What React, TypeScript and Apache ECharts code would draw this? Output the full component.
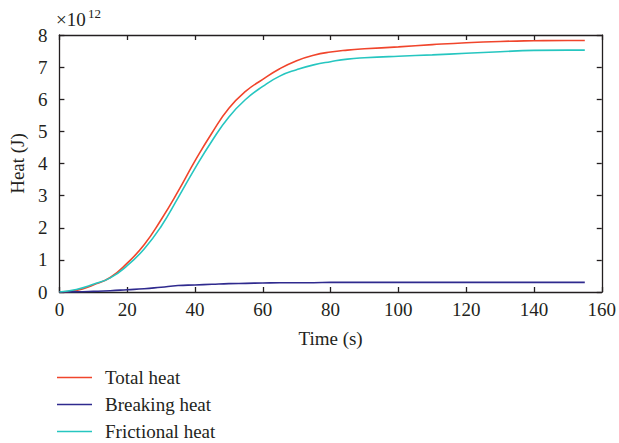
import React, { useEffect, useRef } from "react";
import * as echarts from "echarts";

const time = [0, 5, 10, 15, 20, 25, 30, 35, 40, 45, 50, 55, 60, 65, 70, 75, 80, 85, 90, 100, 110, 120, 130, 140, 150, 155];
const totalHeat = [0, 0.05, 0.22, 0.45, 0.9, 1.47, 2.25, 3.13, 4.08, 4.95, 5.72, 6.25, 6.62, 6.95, 7.2, 7.37, 7.47, 7.53, 7.57, 7.63, 7.7, 7.76, 7.8, 7.82, 7.83, 7.83];
const breakingHeat = [0, 0.005, 0.02, 0.04, 0.07, 0.1, 0.15, 0.2, 0.22, 0.24, 0.26, 0.27, 0.28, 0.29, 0.29, 0.29, 0.3, 0.3, 0.3, 0.3, 0.3, 0.3, 0.3, 0.3, 0.3, 0.3];
const frictionalHeat = [0, 0.08, 0.24, 0.44, 0.82, 1.34, 2.04, 2.93, 3.85, 4.7, 5.45, 6.0, 6.4, 6.72, 6.92, 7.07, 7.17, 7.25, 7.29, 7.34, 7.38, 7.43, 7.48, 7.52, 7.53, 7.53];
const seriesNames = ["Total heat", "Breaking heat", "Frictional heat"];
const colors = ["#f0452c", "#2f2a8e", "#26c6c0"];

const FONT = "Liberation Serif";
const TXT = "#231f20";
const FS = 19;

export default function App() {
  const ref = useRef<HTMLDivElement>(null);
  useEffect(() => {
    const chart = echarts.init(ref.current!, null, { renderer: "svg" });
    const values = [totalHeat, breakingHeat, frictionalHeat];
    const axisLine = { show: true, onZero: false, lineStyle: { color: "#231f20", width: 1.3 } };
    const axisTick = { show: true, inside: true, length: 5, lineStyle: { color: "#231f20", width: 1.3 } };
    chart.setOption({
      animation: false,
      backgroundColor: "#ffffff",
      textStyle: { fontFamily: FONT },
      grid: { left: 57, right: 16, top: 35, bottom: 151 },
      legend: {
        orient: "vertical",
        left: 57,
        top: 368,
        height: 76,
        padding: 0,
        itemWidth: 35,
        itemHeight: 1.6,
        itemGap: 8,
        icon: "rect",
        data: seriesNames,
        textStyle: { fontFamily: FONT, fontSize: FS, color: TXT, padding: [0, 0, 0, 8] },
      },
      xAxis: [
        {
          type: "value",
          min: 0,
          max: 160,
          interval: 20,
          name: "Time (s)",
          nameLocation: "middle",
          nameGap: 37,
          nameTextStyle: { fontFamily: FONT, fontSize: FS, color: TXT },
          axisLine,
          axisTick,
          splitLine: { show: false },
          axisLabel: { fontFamily: FONT, fontSize: FS, color: TXT, margin: 8 },
        },
        {
          type: "value",
          position: "top",
          min: 0,
          max: 160,
          interval: 20,
          axisLine,
          axisTick,
          splitLine: { show: false },
          axisLabel: { show: false },
        },
      ],
      yAxis: [
        {
          type: "value",
          min: 0,
          max: 8,
          interval: 1,
          name: "Heat (J)",
          nameLocation: "middle",
          nameGap: 30,
          nameTextStyle: { fontFamily: FONT, fontSize: FS, color: TXT },
          axisLine,
          axisTick,
          splitLine: { show: false },
          axisLabel: { fontFamily: FONT, fontSize: FS, color: TXT, margin: 12 },
        },
        {
          type: "value",
          position: "right",
          min: 0,
          max: 8,
          interval: 1,
          axisLine,
          axisTick,
          splitLine: { show: false },
          axisLabel: { show: false },
        },
      ],
      graphic: [
        { type: "text", left: 56, top: 10, style: { text: "×10", fontFamily: FONT, fontSize: FS, fill: TXT } },
        { type: "text", left: 88, top: 7, style: { text: "12", fontFamily: FONT, fontSize: 13, fill: TXT } },
      ],
      series: seriesNames.map((name, i) => ({
        name,
        type: "line",
        smooth: true,
        showSymbol: false,
        symbol: "none",
        xAxisIndex: 0,
        yAxisIndex: 0,
        data: time.map((t, k) => [t, values[i][k]]),
        lineStyle: { color: colors[i], width: 1.6 },
        itemStyle: { color: colors[i] },
      })),
    });
    return () => chart.dispose();
  }, []);
  return <div ref={ref} style={{ position: "absolute", left: 0, top: 0, width: 619, height: 443 }} />;
}
